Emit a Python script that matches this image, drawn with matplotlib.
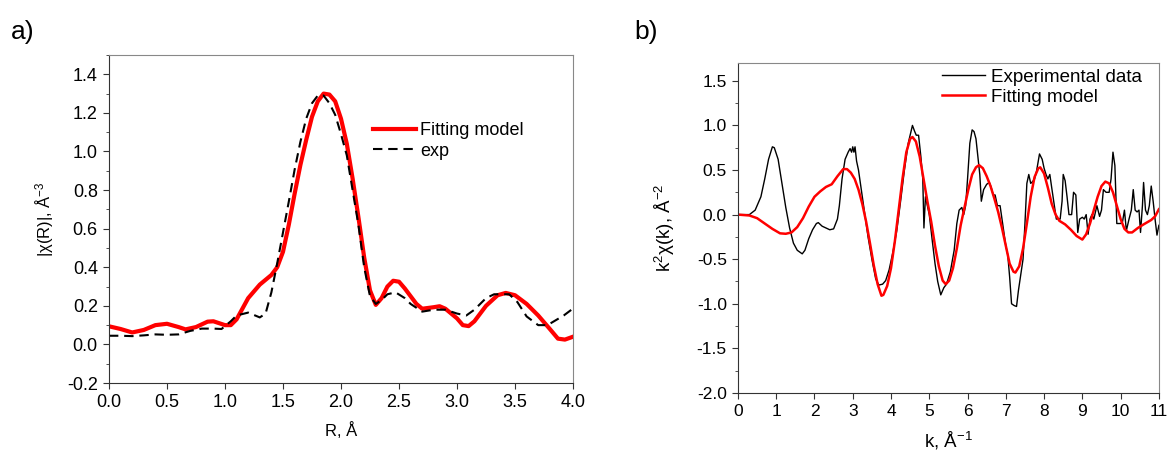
import matplotlib
matplotlib.use("Agg")
import matplotlib.pyplot as plt
from matplotlib.ticker import MultipleLocator

plt.rcParams["font.family"] = ["Liberation Sans", "DejaVu Sans"]
plt.rcParams["mathtext.fontset"] = "custom"
plt.rcParams["mathtext.rm"] = "Liberation Sans"
plt.rcParams["mathtext.it"] = "Liberation Sans:italic"
plt.rcParams["mathtext.default"] = "regular"
plt.rcParams["lines.solid_joinstyle"] = "round"
plt.rcParams["lines.dash_joinstyle"] = "round"

# panel a) |chi(R)|
R_fit = [0.0, 0.1, 0.2, 0.3, 0.4, 0.5, 0.6, 0.66, 0.75, 0.85, 0.9, 1.0, 1.05, 1.1, 1.2, 1.3,
         1.4, 1.45, 1.5, 1.55, 1.6, 1.65, 1.7, 1.75, 1.8, 1.85, 1.9, 1.95, 2.0, 2.05, 2.1,
         2.15, 2.2, 2.25, 2.3, 2.35, 2.4, 2.45, 2.5, 2.55, 2.6, 2.65, 2.7, 2.8, 2.85, 2.9,
         3.0, 3.05, 3.1, 3.15, 3.25, 3.35, 3.42, 3.5, 3.6, 3.7, 3.8, 3.87, 3.93, 4.0]
chiR_fit = [0.094, 0.08, 0.062, 0.075, 0.10, 0.107, 0.09, 0.078, 0.09, 0.118, 0.12, 0.10, 0.10,
            0.13, 0.24, 0.31, 0.36, 0.40, 0.48, 0.62, 0.78, 0.93, 1.06, 1.18, 1.26, 1.30, 1.295,
            1.26, 1.17, 1.04, 0.86, 0.66, 0.45, 0.28, 0.205, 0.24, 0.30, 0.33, 0.325, 0.29,
            0.25, 0.21, 0.185, 0.193, 0.198, 0.185, 0.135, 0.10, 0.095, 0.12, 0.20, 0.255,
            0.267, 0.255, 0.21, 0.15, 0.08, 0.03, 0.025, 0.04]

R_exp = [0.0, 0.1, 0.2, 0.3, 0.4, 0.5, 0.6, 0.7, 0.8, 0.9, 0.97, 1.05, 1.1, 1.2, 1.3, 1.35,
         1.4, 1.45, 1.5, 1.55, 1.6, 1.65, 1.7, 1.75, 1.8, 1.85, 1.9, 1.95, 2.0, 2.05, 2.1,
         2.15, 2.2, 2.25, 2.3, 2.35, 2.4, 2.47, 2.55, 2.6, 2.7, 2.8, 2.9, 3.0, 3.08, 3.15,
         3.25, 3.32, 3.45, 3.52, 3.6, 3.7, 3.78, 3.85, 3.92, 4.0]
chiR_exp = [0.045, 0.045, 0.043, 0.047, 0.052, 0.05, 0.052, 0.07, 0.082, 0.082, 0.08, 0.12, 0.15,
            0.165, 0.14, 0.16, 0.27, 0.42, 0.58, 0.74, 0.905, 1.05, 1.17, 1.25, 1.29, 1.29,
            1.25, 1.19, 1.09, 0.98, 0.80, 0.62, 0.40, 0.25, 0.21, 0.23, 0.26, 0.27, 0.24, 0.21,
            0.17, 0.18, 0.18, 0.16, 0.15, 0.18, 0.24, 0.26, 0.26, 0.22, 0.145, 0.10, 0.10,
            0.125, 0.15, 0.186]

# panel b) k^2 chi(k)
k_exp = [0, 0.3, 0.45, 0.6, 0.7, 0.8, 0.9, 0.95, 1.05, 1.15, 1.25, 1.35, 1.45, 1.55, 1.68,
         1.75, 1.85, 1.95, 2.05, 2.1, 2.2, 2.3, 2.4, 2.5, 2.6, 2.65, 2.72, 2.8, 2.88, 2.93,
         2.97, 3.0, 3.03, 3.06, 3.1, 3.15, 3.2, 3.3, 3.4, 3.5, 3.6, 3.68, 3.78, 3.86, 3.95,
         4.05, 4.15, 4.25, 4.35, 4.45, 4.52, 4.56, 4.62, 4.66, 4.72, 4.78, 4.83, 4.86, 4.9,
         4.95, 5.0, 5.08, 5.15, 5.22, 5.3, 5.38, 5.45, 5.55, 5.65, 5.72, 5.78, 5.85, 5.9,
         5.95, 6.0, 6.06, 6.12, 6.17, 6.22, 6.27, 6.32, 6.36, 6.42, 6.5, 6.57, 6.62, 6.67,
         6.72, 6.78, 6.85, 6.9, 6.95, 7.0, 7.05, 7.1, 7.15, 7.22, 7.28, 7.33, 7.4, 7.45,
         7.5, 7.55, 7.6, 7.65, 7.7, 7.75, 7.8, 7.88, 7.95, 8.0, 8.05, 8.1, 8.15, 8.2, 8.27,
         8.32, 8.42, 8.47, 8.5, 8.55, 8.6, 8.65, 8.72, 8.77, 8.83, 8.88, 8.93, 9.0, 9.05,
         9.1, 9.15, 9.2, 9.25, 9.3, 9.38, 9.45, 9.5, 9.55, 9.62, 9.7, 9.75, 9.8, 9.85, 9.9,
         10.0, 10.05, 10.1, 10.15, 10.22, 10.28, 10.33, 10.38, 10.43, 10.48, 10.52, 10.57,
         10.6, 10.65, 10.7, 10.75, 10.8, 10.85, 10.9, 10.95, 11.0]
chik_exp = [0, 0.0, 0.05, 0.2, 0.4, 0.62, 0.76, 0.75, 0.62, 0.35, 0.08, -0.15, -0.32, -0.40,
            -0.44, -0.40, -0.27, -0.17, -0.10, -0.09, -0.13, -0.15, -0.17, -0.16, -0.05, 0.10,
            0.40, 0.62, 0.70, 0.74, 0.70, 0.76, 0.70, 0.76, 0.60, 0.50, 0.35, 0.05, -0.25,
            -0.50, -0.72, -0.79, -0.78, -0.74, -0.62, -0.42, -0.18, 0.15, 0.50, 0.80, 0.93,
            1.0, 0.93, 0.89, 0.89, 0.65, 0.40, -0.15, 0.20, 0.10, 0.0, -0.30, -0.55, -0.75,
            -0.90, -0.82, -0.78, -0.64, -0.40, -0.10, 0.05, 0.08, 0.0, 0.10, 0.40, 0.80, 0.95,
            0.93, 0.85, 0.65, 0.45, 0.15, 0.28, 0.34, 0.36, 0.30, 0.22, 0.22, 0.10, 0.10,
            -0.05, -0.20, -0.35, -0.45, -0.70, -1.00, -1.02, -1.03, -0.85, -0.65, -0.50, -0.10,
            0.35, 0.45, 0.35, 0.37, 0.40, 0.48, 0.68, 0.62, 0.52, 0.45, 0.40, 0.45, 0.30,
            0.10, -0.05, -0.05, 0.15, 0.45, 0.38, 0.20, 0.0, 0.0, 0.25, 0.22, -0.20, -0.05,
            -0.03, -0.05, 0.0, -0.22, -0.05, 0.0, -0.05, 0.10, -0.02, 0.05, 0.28, 0.25, 0.25,
            0.40, 0.70, 0.55, -0.10, -0.10, -0.08, 0.05, -0.18, -0.05, 0.05, 0.28, 0.05, 0.03,
            0.05, -0.20, 0.10, 0.36, 0.05, 0.0, 0.10, 0.32, 0.15, -0.05, -0.23, -0.12]

k_fit = [0, 0.3, 0.5, 0.7, 0.9, 1.1, 1.25, 1.4, 1.55, 1.7, 1.85, 2.0, 2.15, 2.3, 2.45, 2.6,
         2.75, 2.85, 2.95, 3.05, 3.15, 3.25, 3.35, 3.45, 3.55, 3.65, 3.75, 3.8, 3.9, 4.0,
         4.1, 4.2, 4.3, 4.4, 4.5, 4.56, 4.65, 4.75, 4.85, 4.95, 5.05, 5.15, 5.25, 5.35, 5.43,
         5.52, 5.62, 5.72, 5.82, 5.92, 6.02, 6.12, 6.22, 6.3, 6.4, 6.5, 6.6, 6.7, 6.8, 6.9,
         7.0, 7.1, 7.2, 7.25, 7.35, 7.45, 7.55, 7.65, 7.75, 7.85, 7.9, 8.0, 8.1, 8.2, 8.3,
         8.4, 8.55, 8.7, 8.85, 9.0, 9.1, 9.2, 9.3, 9.4, 9.5, 9.6, 9.7, 9.8, 9.9, 10.0, 10.1,
         10.2, 10.3, 10.45, 10.6, 10.8, 10.9, 11.0]
chik_fit = [0, -0.01, -0.04, -0.10, -0.16, -0.21, -0.215, -0.20, -0.14, -0.04, 0.09, 0.2, 0.26,
            0.31, 0.34, 0.43, 0.51, 0.51, 0.47, 0.40, 0.28, 0.12, -0.08, -0.32, -0.57, -0.78,
            -0.91, -0.90, -0.80, -0.60, -0.30, 0.05, 0.40, 0.70, 0.85, 0.87, 0.82, 0.65, 0.40,
            0.15, -0.08, -0.35, -0.58, -0.74, -0.78, -0.74, -0.60, -0.38, -0.12, 0.08, 0.28,
            0.45, 0.53, 0.555, 0.52, 0.43, 0.32, 0.18, 0.03, -0.15, -0.35, -0.55, -0.64, -0.65,
            -0.58, -0.38, -0.10, 0.20, 0.42, 0.52, 0.53, 0.46, 0.30, 0.12, 0.0, -0.07, -0.11,
            -0.17, -0.24, -0.28, -0.22, -0.10, 0.05, 0.20, 0.32, 0.37, 0.35, 0.25, 0.10, -0.05,
            -0.16, -0.20, -0.20, -0.15, -0.11, -0.06, -0.02, 0.06]


def style_axes(ax, size):
    for side in ["left", "bottom"]:
        ax.spines[side].set_color("#333333")
    for side in ["top", "right"]:
        ax.spines[side].set_color("#888888")
    ax.tick_params(which="both", direction="out", top=False, right=False,
                   labelsize=size, colors="#333333", labelcolor="black")
    ax.tick_params(which="major", length=4.5)
    ax.tick_params(which="minor", length=2.5)
    ax.tick_params(axis="x", which="minor", bottom=False)


fig = plt.figure(figsize=(11.68, 4.55), dpi=100)

ax1 = fig.add_axes([0.0933, 0.1582, 0.3973, 0.7209])
ax1.plot(R_fit, chiR_fit, color="#ff0000", lw=3, label="Fitting model")
ax1.plot(R_exp, chiR_exp, color="black", lw=1.5, dashes=(4.5, 2.8), label="exp")
ax1.set_xlim(0, 4)
ax1.set_ylim(-0.2, 1.5)
ax1.xaxis.set_major_locator(MultipleLocator(0.5))
ax1.yaxis.set_minor_locator(MultipleLocator(0.1))
ax1.set_yticks([-0.2, 0.0, 0.2, 0.4, 0.6, 0.8, 1.0, 1.2, 1.4])
ax1.xaxis.set_major_formatter(lambda v, p: f"{v:.1f}")
ax1.yaxis.set_major_formatter(lambda v, p: f"{v:.1f}")
style_axes(ax1, 13)
ax1.set_xlabel("R, Å", fontsize=12, labelpad=8)
ax1.set_ylabel("|χ(R)|, Å$^{-3}$", fontsize=12, labelpad=8)
ax1.legend(loc="upper left", bbox_to_anchor=(0.569, 0.796), frameon=False, fontsize=13,
           handlelength=2.4, handletextpad=0.2, labelspacing=0.2, borderpad=0, borderaxespad=0)

ax2 = fig.add_axes([0.6318, 0.1363, 0.3604, 0.7253])
ax2.plot(k_exp, chik_exp, color="black", lw=1.0, label="Experimental data")
ax2.plot(k_fit, chik_fit, color="#ff0000", lw=1.8, label="Fitting model")
ax2.set_xlim(0, 11)
ax2.set_ylim(-2.0, 1.7)
ax2.xaxis.set_major_locator(MultipleLocator(1))
ax2.yaxis.set_major_locator(MultipleLocator(0.5))
ax2.yaxis.set_minor_locator(MultipleLocator(0.25))
ax2.yaxis.set_major_formatter(lambda v, p: f"{v:.1f}")
style_axes(ax2, 12.5)
ax2.set_xlabel("k, Å$^{-1}$", fontsize=13.5, labelpad=8)
ax2.set_ylabel("k$^{2}$χ(k), Å$^{-2}$", fontsize=13.5, labelpad=14)
ax2.legend(loc="upper left", bbox_to_anchor=(0.4846, 0.983), frameon=False, fontsize=13.5,
           handlelength=2.3, handletextpad=0.3, labelspacing=0.15, borderpad=0, borderaxespad=0)

fig.text(0.009, 0.93, "a)", fontsize=19, va="center", ha="left")
fig.text(0.543, 0.93, "b)", fontsize=19, va="center", ha="left")

fig.savefig("out.png", dpi=100)
